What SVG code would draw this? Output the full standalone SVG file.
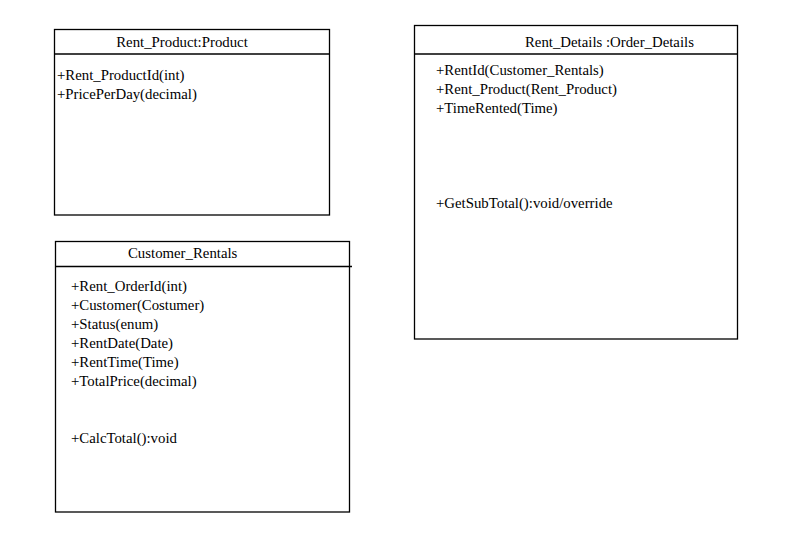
<svg xmlns="http://www.w3.org/2000/svg" width="802" height="547" viewBox="0 0 802 547">
<style>
.box{fill:#fff;stroke:#000;stroke-width:1.3}
.sep{stroke:#000;stroke-width:1.3}
text{font-family:"Liberation Serif","Times New Roman",serif;font-size:14.8px;fill:#000}
</style>
<rect width="802" height="547" fill="#fff"/>
<g id="rent_product">
<rect class="box" x="54.5" y="29.5" width="275" height="185.5"/>
<line class="sep" x1="54.5" y1="54" x2="329.5" y2="54"/>
<text x="182" y="47" text-anchor="middle">Rent_Product:Product</text>
<text x="57" y="80">+Rent_ProductId(int)</text>
<text x="57" y="99">+PricePerDay(decimal)</text>
</g>
<g id="rent_details">
<rect class="box" x="414.5" y="25.5" width="323" height="313.5"/>
<line class="sep" x1="414.5" y1="54" x2="737.5" y2="54"/>
<text x="525" y="47">Rent_Details :Order_Details</text>
<text x="436" y="75">+RentId(Customer_Rentals)</text>
<text x="436" y="94">+Rent_Product(Rent_Product)</text>
<text x="436" y="113">+TimeRented(Time)</text>
<text x="436" y="208">+GetSubTotal():void/override</text>
</g>
<g id="customer_rentals">
<rect class="box" x="55.5" y="241.5" width="294" height="270.5"/>
<line class="sep" x1="55.5" y1="266.5" x2="352" y2="266.5"/>
<text x="128" y="258">Customer_Rentals</text>
<text x="71" y="291">+Rent_OrderId(int)</text>
<text x="71" y="310">+Customer(Costumer)</text>
<text x="71" y="329">+Status(enum)</text>
<text x="71" y="348">+RentDate(Date)</text>
<text x="71" y="367">+RentTime(Time)</text>
<text x="71" y="386">+TotalPrice(decimal)</text>
<text x="71" y="443">+CalcTotal():void</text>
</g>
<g id="connectors"></g>
</svg>
